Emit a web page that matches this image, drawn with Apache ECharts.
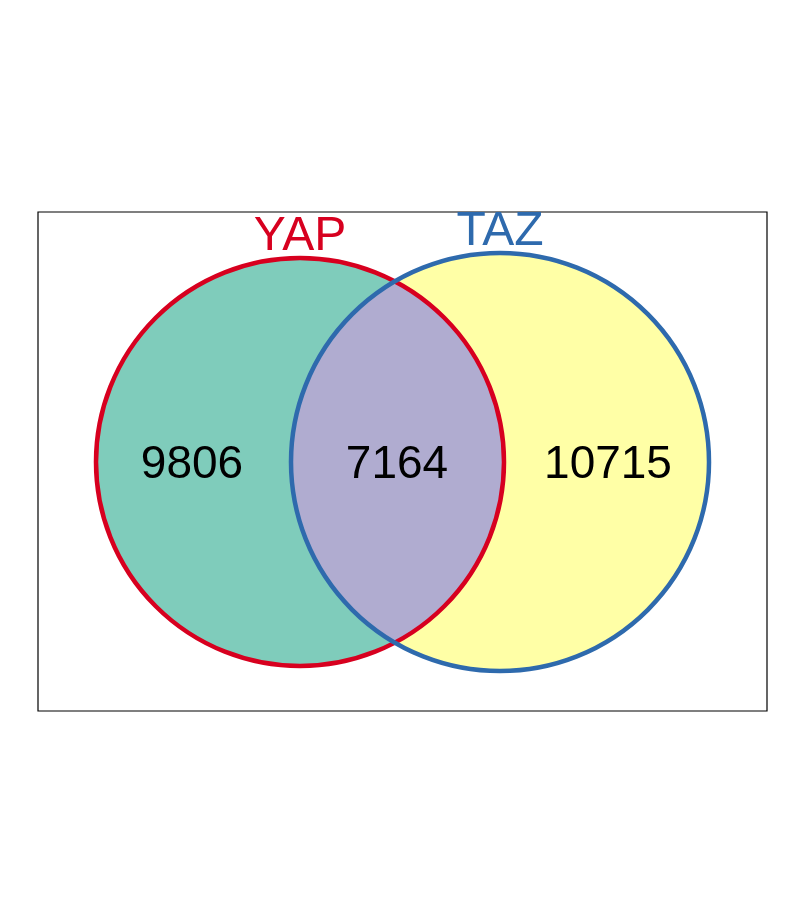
<!DOCTYPE html>
<html>
<head>
<meta charset="UTF-8">
<style>html,body{margin:0;padding:0;background:#fff}#main{width:806px;height:924px}</style>
</head>
<body>
<div id="main"></div>
<script src="https://cdn.jsdelivr.net/npm/echarts@6/dist/echarts.min.js"></script>
<script>
// set names, circle centres/radii in plot units, region counts
const setNames = ['YAP', 'TAZ'];
const setColors = ['#d7001f', '#2e6aad'];
const fillColors = ['#7fccbb', '#ffffa6'];
const overlapColor = '#b0acd0';
const circles = [[262, 250, 204], [462, 250, 209]]; // cx, cy, r
const counts = [9806, 7164, 10715];
const countPos = [[154, 253], [359, 253], [570, 253]];
const namePos = [[262, 25], [462, 20]];

const chart = echarts.init(document.getElementById('main'));

function renderVenn(params, api) {
  const toPx = (x, y) => api.coord([x, y]);
  const scale = api.size([1, 0])[0];
  const c = circles.map(([x, y, r]) => { const p = toPx(x, y); return [p[0], p[1], r * scale]; });
  const kids = [];
  c.forEach((ci, i) => kids.push({ type: 'circle', shape: { cx: ci[0], cy: ci[1], r: ci[2] }, style: { fill: fillColors[i] } }));
  // lens between the two circles
  const [a, b] = c;
  const d = Math.hypot(b[0] - a[0], b[1] - a[1]);
  const l = (a[2] * a[2] - b[2] * b[2] + d * d) / (2 * d);
  const h = Math.sqrt(a[2] * a[2] - l * l);
  const ux = (b[0] - a[0]) / d, uy = (b[1] - a[1]) / d;
  const mx = a[0] + ux * l, my = a[1] + uy * l;
  const t = [mx + uy * h, my - ux * h], btm = [mx - uy * h, my + ux * h];
  kids.push({ type: 'path', shape: { pathData: `M${t[0]} ${t[1]} A${a[2]} ${a[2]} 0 0 1 ${btm[0]} ${btm[1]} A${b[2]} ${b[2]} 0 0 1 ${t[0]} ${t[1]} Z` }, style: { fill: overlapColor } });
  c.forEach((ci, i) => kids.push({ type: 'circle', shape: { cx: ci[0], cy: ci[1], r: ci[2] }, style: { fill: 'none', stroke: setColors[i], lineWidth: 4.5 } }));
  counts.forEach((v, i) => {
    const p = toPx(countPos[i][0], countPos[i][1]);
    kids.push({ type: 'text', x: p[0], y: p[1], style: { text: String(v), fill: '#000', font: '46px Liberation Sans, Arial', align: 'center', verticalAlign: 'middle' } });
  });
  setNames.forEach((n, i) => {
    const p = toPx(namePos[i][0], namePos[i][1]);
    kids.push({ type: 'text', x: p[0], y: p[1], style: { text: n, fill: setColors[i], font: '48px Liberation Sans, Arial', align: 'center', verticalAlign: 'middle' } });
  });
  return { type: 'group', children: kids };
}

chart.setOption({
  animation: false,
  grid: { left: 38, top: 212, width: 729, height: 499, show: true, borderColor: '#000', borderWidth: 1.2, backgroundColor: 'transparent' },
  xAxis: { type: 'value', min: 0, max: 729, show: false },
  yAxis: { type: 'value', min: 0, max: 499, inverse: true, show: false },
  series: [{ type: 'custom', renderItem: renderVenn, data: [[0, 0]], clip: false }]
});
</script>
</body>
</html>
